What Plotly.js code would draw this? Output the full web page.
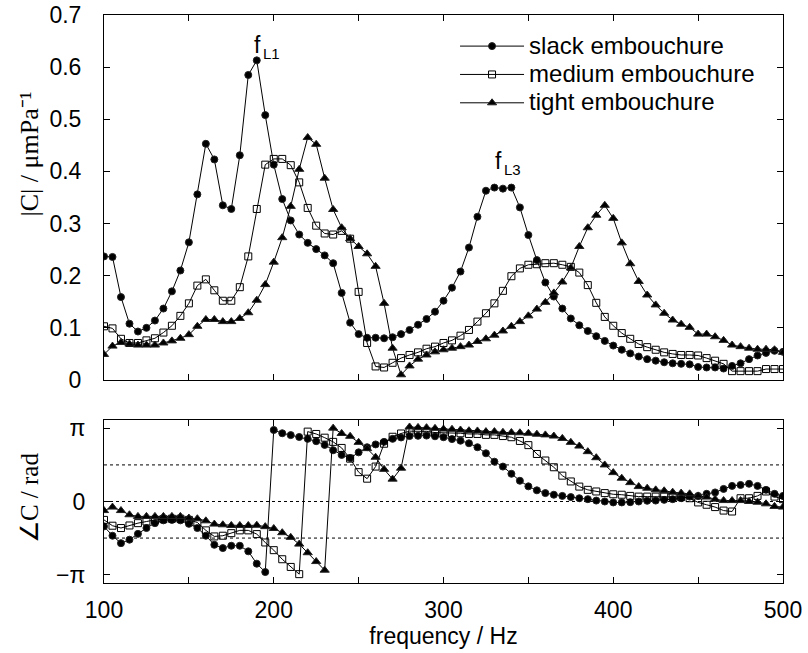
<!DOCTYPE html>
<html>
<head>
<meta charset="utf-8">
<script src="https://cdn.plot.ly/plotly-3.0.1.min.js"></script>
<style>html,body{margin:0;padding:0;background:#fff;}#chart{width:808px;height:653px;}</style>
</head>
<body>
<div id="chart"></div>
<script>
// frequency (Hz)
const freq = [100,105,110,115,120,125,130,135,140,145,150,155,160,165,170,175,180,185,190,195,
  200,205,210,215,220,225,230,235,240,245,250,255,260,265,270,275,280,285,290,295,
  300,305,310,315,320,325,330,335,340,345,350,355,360,365,370,375,380,385,390,395,
  400,405,410,415,420,425,430,435,440,445,450,455,460,465,470,475,480,485,490,495,500];

// |C| (um/Pa)
const magSlack = [0.237,0.236,0.159,0.108,0.093,0.100,0.114,0.137,0.170,0.210,
  0.264,0.356,0.453,0.423,0.335,0.328,0.431,0.585,0.613,0.508,
  0.413,0.347,0.306,0.279,0.263,0.251,0.239,0.224,0.167,0.110,
  0.088,0.081,0.081,0.080,0.082,0.088,0.096,0.106,0.117,0.131,
  0.152,0.177,0.208,0.254,0.313,0.363,0.369,0.367,0.369,0.331,
  0.278,0.230,0.187,0.160,0.137,0.118,0.105,0.094,0.084,0.075,
  0.066,0.058,0.051,0.045,0.040,0.037,0.034,0.032,0.031,0.030,
  0.025,0.024,0.024,0.022,0.027,0.032,0.040,0.047,0.052,0.056,0.054];
const magMedium = [0.103,0.099,0.079,0.071,0.071,0.076,0.080,0.091,0.104,0.123,
  0.147,0.181,0.193,0.172,0.152,0.152,0.178,0.237,0.328,0.413,
  0.424,0.424,0.412,0.379,0.330,0.296,0.281,0.279,0.286,0.271,
  0.169,0.071,0.026,0.024,0.033,0.042,0.048,0.053,0.060,0.064,
  0.071,0.076,0.085,0.096,0.112,0.128,0.147,0.171,0.199,0.214,
  0.221,0.222,0.224,0.224,0.221,0.217,0.206,0.182,0.148,0.121,
  0.104,0.090,0.079,0.069,0.063,0.058,0.053,0.050,0.048,0.048,
  0.047,0.042,0.037,0.031,0.017,0.017,0.017,0.017,0.021,0.021,0.021];
const magTight = [0.049,0.065,0.072,0.069,0.067,0.067,0.067,0.071,0.075,0.080,
  0.087,0.103,0.116,0.116,0.112,0.112,0.118,0.129,0.153,0.183,
  0.226,0.273,0.333,0.404,0.465,0.452,0.387,0.327,0.292,0.271,
  0.256,0.242,0.218,0.147,0.061,0.010,0.027,0.040,0.048,0.054,
  0.058,0.061,0.064,0.067,0.074,0.079,0.086,0.094,0.103,0.112,
  0.123,0.136,0.149,0.167,0.188,0.215,0.256,0.292,0.316,0.335,
  0.310,0.263,0.223,0.189,0.163,0.144,0.128,0.115,0.107,0.101,
  0.088,0.088,0.083,0.076,0.067,0.064,0.061,0.059,0.059,0.058,0.053];

// phase of C (rad)
const phSlack = [-1.07,-1.47,-1.79,-1.64,-1.39,-1.14,-0.93,-0.81,-0.79,-0.81,
  -0.96,-1.14,-1.47,-1.86,-2.00,-1.90,-1.90,-2.14,-2.67,-3.03,
  3.07,2.93,2.85,2.77,2.69,2.59,2.43,2.20,2.00,1.87,
  2.11,2.33,2.45,2.56,2.69,2.75,2.81,2.82,2.83,2.80,
  2.76,2.68,2.61,2.50,2.33,2.07,1.71,1.50,1.19,0.89,
  0.65,0.48,0.36,0.29,0.24,0.19,0.14,0.10,0.04,0.00,
  -0.04,-0.04,-0.03,0.00,0.03,0.04,0.07,0.10,0.14,0.21,
  0.24,0.33,0.39,0.54,0.67,0.71,0.76,0.67,0.50,0.33,0.24];
const phMedium = [-0.79,-1.04,-1.14,-1.03,-0.93,-0.86,-0.79,-0.76,-0.74,-0.74,
  -0.79,-0.90,-1.24,-1.50,-1.47,-1.36,-1.24,-1.24,-1.40,-1.76,
  -2.09,-2.48,-2.81,-3.12,3.00,2.90,2.74,2.56,2.30,1.84,
  1.26,0.98,1.50,2.48,2.78,2.92,3.02,3.03,3.01,2.96,
  2.96,2.93,2.93,2.90,2.90,2.86,2.86,2.81,2.76,2.60,
  2.42,2.04,1.76,1.47,1.11,0.86,0.64,0.50,0.43,0.36,
  0.31,0.29,0.24,0.21,0.21,0.21,0.21,0.19,0.19,0.14,
  -0.04,-0.14,-0.24,-0.39,-0.43,0.14,0.14,0.24,0.43,0.21,0.10];
const phTight = [-0.39,-0.24,-0.39,-0.57,-0.64,-0.64,-0.64,-0.64,-0.64,-0.64,
  -0.71,-0.74,-0.83,-0.97,-1.00,-1.03,-1.03,-1.03,-1.02,-1.08,
  -1.16,-1.34,-1.54,-1.83,-2.20,-2.58,-2.95,3.15,2.92,2.80,
  2.54,2.27,1.90,1.38,0.96,1.43,3.20,3.18,3.17,3.14,
  3.11,3.10,3.07,3.04,3.03,3.00,3.00,2.97,2.96,2.95,
  2.93,2.89,2.86,2.81,2.71,2.54,2.38,2.14,1.88,1.57,
  1.24,1.00,0.81,0.64,0.57,0.50,0.46,0.40,0.36,0.33,
  0.24,0.19,0.10,0.04,0.04,0.04,0.00,-0.03,-0.10,-0.21,-0.24];

const seriesNames = ['slack embouchure','medium embouchure','tight embouchure'];
const xTickVals = [100,200,300,400,500];
const xTickText = ['100','200','300','400','500'];
const magTickVals = [0,0.1,0.2,0.3,0.4,0.5,0.6,0.7];
const phTickVals = [-Math.PI,0,Math.PI];
const phTickText = ['\u2212\u03c0','0','\u03c0'];
const phRefLines = [Math.PI/2, 0, -Math.PI/2];

const SANS = 'Liberation Sans, Arial, sans-serif';
const SERIF = 'Liberation Serif, Times New Roman, serif';
const styles = [
  {symbol:'circle', size:7},
  {symbol:'square-open', size:7},
  {symbol:'triangle-up', size:8}
];
const mags = [magSlack, magMedium, magTight];
const phs = [phSlack, phMedium, phTight];

const traces = [];
for (let i = 0; i < 3; i++) {
  traces.push({
    x: freq, y: mags[i], xaxis:'x', yaxis:'y', type:'scatter', mode:'lines+markers',
    name: '<span style="font-size:24px">' + seriesNames[i] + '</span>', legendgroup: 'g'+i,
    line:{color:'#000', width:1},
    marker:{symbol:styles[i].symbol, size:styles[i].size, color:'#000', line:{color:'#222', width:1}}
  });
}
for (let i = 0; i < 3; i++) {
  traces.push({
    x: freq, y: phs[i], xaxis:'x2', yaxis:'y2', type:'scatter', mode:'lines+markers',
    name: seriesNames[i], legendgroup: 'g'+i, showlegend:false,
    line:{color:'#000', width:1},
    marker:{symbol:styles[i].symbol, size:styles[i].size, color:'#000', line:{color:'#222', width:1}}
  });
}

const axBase = {
  showline:true, linecolor:'#000', linewidth:1, mirror:'ticks',
  ticks:'inside', ticklen:6, tickwidth:1, tickcolor:'#000',
  showgrid:false, zeroline:false,
  tickfont:{family:SANS, size:23, color:'#000'}
};
const xMinor = {dtick:50, tick0:100, ticks:'inside', ticklen:6, tickwidth:1, tickcolor:'#000', showgrid:false};

function label(text, x, y, size, anchor) {
  return {text:text, xref:'x', yref:'y', x:x, y:y, xanchor:anchor, yanchor:'middle',
    showarrow:false, borderpad:0, font:{family:SANS, size:size, color:'#000'}};
}

const layout = {
  width:808, height:653,
  margin:{l:104, r:25, t:15, b:70},
  paper_bgcolor:'#fff', plot_bgcolor:'#fff',
  showlegend:true,
  legend:{x:0.517, y:0.979, xanchor:'left', yanchor:'top', bgcolor:'rgba(0,0,0,0)',
    font:{family:SANS, size:19.5, color:'#000'}, itemwidth:64, tracegroupgap:0},
  xaxis: Object.assign({}, axBase, {domain:[0,1], anchor:'y', range:[100,500],
    tickmode:'array', tickvals:xTickVals, showticklabels:false, minor:xMinor}),
  yaxis: Object.assign({}, axBase, {domain:[0.3574,1], anchor:'x', range:[0,0.7],
    tickmode:'array', tickvals:magTickVals, ticklabelstandoff:17}),
  xaxis2: Object.assign({}, axBase, {domain:[0,1], anchor:'y2', range:[100,500],
    tickmode:'array', tickvals:xTickVals, ticktext:xTickText, ticklabelstandoff:6, minor:xMinor,
    title:{text:'frequency / Hz', font:{family:SANS, size:23, color:'#000'}, standoff:5}}),
  yaxis2: Object.assign({}, axBase, {domain:[0,0.287], anchor:'x2', range:[-3.5,3.5],
    tickmode:'array', tickvals:phTickVals, ticktext:phTickText, ticklabelstandoff:13}),
  shapes: phRefLines.map(v => ({type:'line', xref:'x2 domain', x0:0, x1:1, yref:'y2', y0:v, y1:v,
    line:{color:'#000', width:1, dash:'3px,3px'}, layer:'below'})),
  annotations: [
    {text:'|C| / \u03bcmPa\u207b\u00b9', xref:'paper', yref:'paper', x:-0.11, y:0.755,
      xanchor:'center', yanchor:'middle', textangle:-90, showarrow:false,
      font:{family:SERIF, size:26, color:'#000'}},
    {text:'\u2220C / rad', xref:'paper', yref:'paper', x:-0.11, y:0.15,
      xanchor:'center', yanchor:'middle', textangle:-90, showarrow:false,
      font:{family:SERIF, size:25, color:'#000'}},
    label('f', 193.1, 0.6425, 23, 'right'),
    label('L1', 193.1, 0.627, 15, 'left'),
    label('f', 335.1, 0.420, 23, 'right'),
    label('L3', 335.1, 0.404, 15, 'left')
  ]
};

Plotly.newPlot('chart', traces, layout, {displayModeBar:false, staticPlot:true});
</script>
</body>
</html>
